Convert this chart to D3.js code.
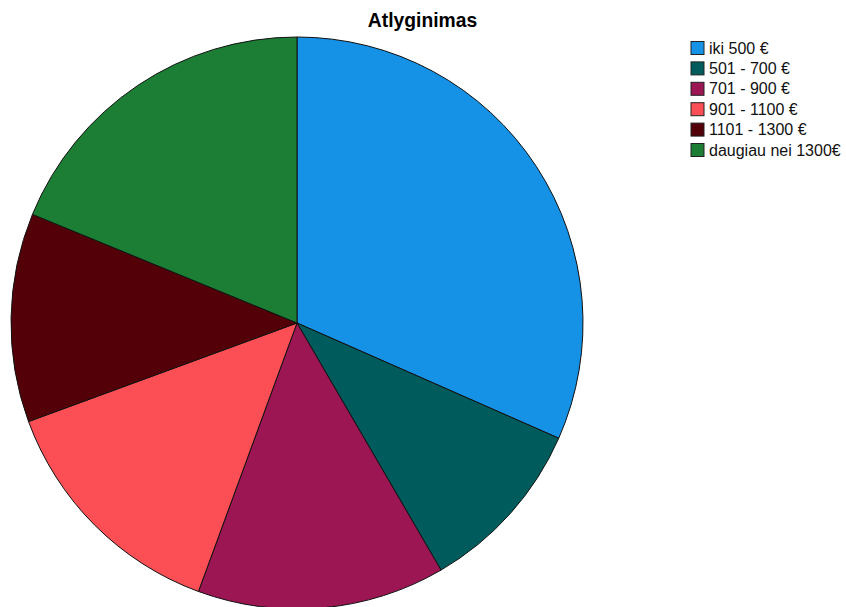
<!DOCTYPE html>
<html><head><meta charset="utf-8">
<script src="https://cdn.jsdelivr.net/npm/d3@7"></script>
<style>body{margin:0;background:#fff}svg{display:block}</style>
</head><body>
<svg id="c" width="846" height="607"></svg>
<script>
const categories = ["iki 500 €","501 - 700 €","701 - 900 €","901 - 1100 €","1101 - 1300 €","daugiau nei 1300€"];
const values = [31.6, 10.0, 14.0, 13.8, 11.8, 18.8];
const colors = ["#1591e6","#005c5c","#9c1653","#fc4e55","#530008","#1c7d34"];
const title = "Atlyginimas";

const svg = d3.select("#c");
const cx = 297, cy = 323, r = 286;
const pie = d3.pie().sort(null).value(d => d)(values);
const arc = d3.arc().innerRadius(0).outerRadius(r);
svg.append("g").attr("transform", `translate(${cx},${cy})`)
  .selectAll("path").data(pie).join("path")
  .attr("d", arc).attr("fill", (d,i) => colors[i])
  .attr("stroke", "#111").attr("stroke-width", 1);

svg.append("text").attr("x", 422.5).attr("y", 27).attr("text-anchor","middle")
  .attr("font-family","Arial, Liberation Sans, sans-serif").attr("font-weight","bold")
  .attr("font-size", 19.3).text(title);

const y = d3.scalePoint().domain(categories).range([48, 150]);
const lg = svg.append("g");
const items = lg.selectAll("g").data(categories).join("g")
  .attr("transform", d => `translate(691,${y(d)})`);
items.append("rect").attr("x",0).attr("y",-6.5).attr("width",13).attr("height",13)
  .attr("fill",(d,i)=>colors[i]).attr("stroke","#222").attr("stroke-width",1);
items.append("text").attr("x",18).attr("y",5.5)
  .attr("font-family","Arial, Liberation Sans, sans-serif").attr("font-size",16)
  .attr("fill","#111").text(d=>d);
</script>
</body></html>
